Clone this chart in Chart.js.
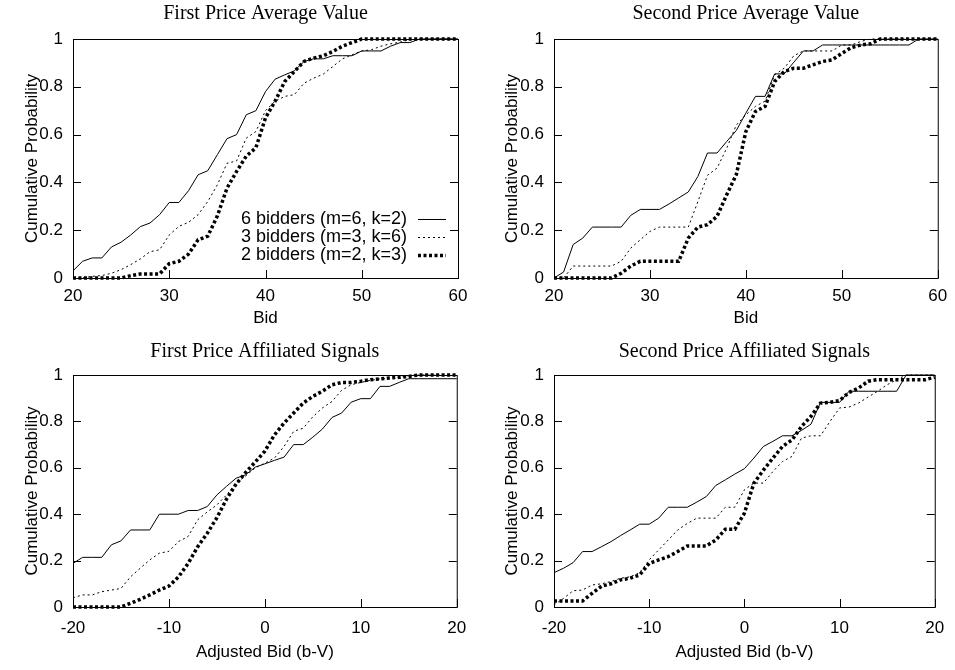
<!DOCTYPE html>
<html>
<head>
<meta charset="utf-8">
<script src="https://cdn.jsdelivr.net/npm/chart.js@4.4.0/dist/chart.umd.min.js"></script>
<style>
  body { margin: 0; background: #fff; }
  #wrap { position: relative; width: 955px; height: 670px; }
  canvas { position: absolute; }
</style>
</head>
<body>
<div id="wrap">
  <canvas id="fpav" width="477" height="335" style="left:0;top:0"></canvas>
  <canvas id="spav" width="478" height="335" style="left:477px;top:0"></canvas>
  <canvas id="fpas" width="477" height="335" style="left:0;top:335px"></canvas>
  <canvas id="spas" width="478" height="335" style="left:477px;top:335px"></canvas>
</div>
<script>
const seriesLabels = ["6 bidders (m=6, k=2)", "3 bidders (m=3, k=6)", "2 bidders (m=2, k=3)"];

const bids = [20, 21, 22, 23, 24, 25, 26, 27, 28, 29, 30, 31, 32, 33, 34, 35, 36, 37, 38, 39, 40,
  41, 42, 43, 44, 45, 46, 47, 48, 49, 50, 51, 52, 53, 54, 55, 56, 57, 58, 59, 60];
const adjBids = [-20, -19, -18, -17, -16, -15, -14, -13, -12, -11, -10, -9, -8, -7, -6, -5, -4, -3, -2, -1, 0,
  1, 2, 3, 4, 5, 6, 7, 8, 9, 10, 11, 12, 13, 14, 15, 16, 17, 18, 19, 20];

// First Price Average Value
const fpavSix = [0.03, 0.07, 0.084, 0.084, 0.13, 0.15, 0.18, 0.215, 0.23, 0.265, 0.316, 0.316, 0.365, 0.432,
  0.449, 0.516, 0.583, 0.6, 0.683, 0.70, 0.78, 0.832, 0.85, 0.867, 0.906, 0.917, 0.917, 0.93, 0.93, 0.93,
  0.95, 0.95, 0.95, 0.97, 0.985, 0.985, 1, 1, 1, 1, 1];
const fpavThree = [0, 0, 0.007, 0.01, 0.02, 0.035, 0.056, 0.08, 0.11, 0.118, 0.18, 0.216, 0.233, 0.265,
  0.32, 0.39, 0.48, 0.49, 0.585, 0.613, 0.70, 0.74, 0.76, 0.767, 0.815, 0.836, 0.853, 0.885, 0.917, 0.934,
  0.95, 0.955, 0.97, 0.98, 0.987, 0.997, 1, 1, 1, 1, 1];
const fpavTwo = [0, 0, 0, 0, 0, 0, 0.01, 0.017, 0.017, 0.017, 0.06, 0.07, 0.1, 0.16, 0.175, 0.26, 0.376,
  0.446, 0.51, 0.545, 0.67, 0.74, 0.822, 0.864, 0.906, 0.92, 0.93, 0.948, 0.97, 0.985, 1, 1, 1, 1, 1, 1,
  1, 1, 1, 1, 1];

// Second Price Average Value
const spavSix = [0, 0.025, 0.14, 0.167, 0.213, 0.213, 0.213, 0.213, 0.262, 0.287, 0.287, 0.287, 0.31,
  0.335, 0.36, 0.425, 0.523, 0.523, 0.571, 0.617, 0.69, 0.76, 0.76, 0.854, 0.854, 0.903, 0.95, 0.95, 0.975,
  0.975, 0.975, 0.975, 0.975, 0.975, 0.975, 0.975, 0.975, 0.975, 1, 1, 1];
const spavThree = [0, 0, 0.05, 0.05, 0.05, 0.05, 0.05, 0.07, 0.125, 0.16, 0.195, 0.213, 0.213, 0.213,
  0.213, 0.32, 0.43, 0.46, 0.543, 0.64, 0.683, 0.718, 0.74, 0.85, 0.878, 0.93, 0.95, 0.95, 0.95, 0.95,
  0.975, 0.975, 0.99, 1, 1, 1, 1, 1, 1, 1, 1];
const spavTwo = [0, 0, 0, 0, 0, 0, 0, 0.02, 0.05, 0.07, 0.07, 0.07, 0.07, 0.07, 0.167, 0.213, 0.223,
  0.258, 0.348, 0.432, 0.613, 0.697, 0.718, 0.822, 0.864, 0.878, 0.878, 0.892, 0.906, 0.913, 0.94, 0.964,
  0.975, 0.98, 1, 1, 1, 1, 1, 1, 1];

// First Price Affiliated Signals
const fpasSix = [0.188, 0.214, 0.214, 0.214, 0.268, 0.285, 0.332, 0.332, 0.332, 0.40, 0.40, 0.40, 0.416,
  0.416, 0.433, 0.483, 0.52, 0.555, 0.57, 0.603, 0.617, 0.632, 0.646, 0.70, 0.70, 0.732, 0.767, 0.817,
  0.836, 0.883, 0.898, 0.898, 0.951, 0.951, 0.968, 0.984, 0.984, 0.984, 0.984, 0.984, 0.984];
const fpasThree = [0.04, 0.052, 0.052, 0.066, 0.073, 0.08, 0.13, 0.167, 0.203, 0.232, 0.24, 0.282, 0.304,
  0.376, 0.41, 0.44, 0.483, 0.534, 0.565, 0.6, 0.62, 0.642, 0.692, 0.757, 0.771, 0.82, 0.858, 0.886, 0.934,
  0.958, 0.968, 0.977, 0.983, 0.987, 0.991, 0.996, 1, 1, 1, 1, 1];
const fpasTwo = [0, 0, 0, 0, 0, 0, 0.016, 0.033, 0.052, 0.073, 0.09, 0.13, 0.188, 0.26, 0.318, 0.385, 0.465,
  0.53, 0.58, 0.625, 0.672, 0.742, 0.793, 0.836, 0.879, 0.908, 0.93, 0.958, 0.968, 0.968, 0.973, 0.98,
  0.983, 0.987, 0.99, 0.994, 1, 1, 1, 1, 1];

// Second Price Affiliated Signals
const spasSix = [0.148, 0.167, 0.191, 0.239, 0.239, 0.26, 0.282, 0.308, 0.332, 0.357, 0.357, 0.383, 0.43,
  0.43, 0.43, 0.452, 0.476, 0.524, 0.548, 0.573, 0.596, 0.642, 0.692, 0.714, 0.738, 0.738, 0.761, 0.788,
  0.882, 0.882, 0.882, 0.93, 0.93, 0.93, 0.93, 0.93, 0.93, 1, 1, 1, 1];
const spasThree = [0.009, 0.037, 0.07, 0.073, 0.095, 0.1, 0.11, 0.124, 0.13, 0.148, 0.203, 0.246, 0.289,
  0.332, 0.36, 0.383, 0.383, 0.383, 0.43, 0.43, 0.505, 0.534, 0.534, 0.584, 0.627, 0.649, 0.728, 0.738,
  0.738, 0.8, 0.858, 0.862, 0.879, 0.905, 0.93, 0.958, 0.98, 1, 1, 1, 1];
const spasTwo = [0.026, 0.026, 0.026, 0.026, 0.059, 0.09, 0.1, 0.117, 0.124, 0.138, 0.188, 0.203, 0.217,
  0.239, 0.263, 0.263, 0.263, 0.289, 0.335, 0.335, 0.404, 0.534, 0.59, 0.642, 0.692, 0.72, 0.778, 0.822,
  0.879, 0.882, 0.89, 0.925, 0.944, 0.973, 0.98, 0.98, 0.98, 0.98, 0.98, 0.98, 0.99];

const sansFont = "'Liberation Sans', Arial, sans-serif";
const serifFont = "'Liberation Serif', 'Times New Roman', serif";
const textSize = 17;
const keySize = 18;

// solid, thin dashed, thick dotted
const lineStyles = [
  { borderWidth: 1, borderDash: [] },
  { borderWidth: 1, borderDash: [2, 3] },
  { borderWidth: 3.5, borderDash: [3, 2.5] },
];

// box, inward tick marks and the in-plot key
const framePlugin = {
  id: "frame",
  beforeDatasetsDraw(chart) {
    const { ctx, chartArea: a, scales } = chart;
    ctx.save();
    ctx.strokeStyle = "#000";
    ctx.lineWidth = 1;
    ctx.strokeRect(a.left + 0.5, a.top + 0.5, a.right - a.left, a.bottom - a.top);
    ctx.beginPath();
    scales.y.ticks.forEach((t) => {
      const py = Math.round(scales.y.getPixelForValue(t.value)) + 0.5;
      ctx.moveTo(a.left, py);
      ctx.lineTo(a.left + 8, py);
      ctx.moveTo(a.right, py);
      ctx.lineTo(a.right - 8, py);
    });
    scales.x.ticks.forEach((t) => {
      const px = Math.round(scales.x.getPixelForValue(t.value)) + 0.5;
      ctx.moveTo(px, a.bottom);
      ctx.lineTo(px, a.bottom - 8);
    });
    ctx.stroke();
    ctx.restore();
  },
  afterDatasetsDraw(chart, args, opts) {
    if (!opts.legend) return;
    const { ctx, chartArea: a } = chart;
    ctx.save();
    ctx.font = keySize + "px " + sansFont;
    ctx.fillStyle = "#000";
    ctx.textAlign = "right";
    ctx.textBaseline = "middle";
    chart.data.datasets.forEach((ds, i) => {
      const y = a.top + 180 + i * 18;
      ctx.fillText(ds.label, a.right - 51, y);
      ctx.beginPath();
      ctx.strokeStyle = "#000";
      ctx.lineWidth = ds.borderWidth;
      ctx.setLineDash(ds.borderDash);
      ctx.moveTo(a.right - 40, y + 0.5);
      ctx.lineTo(a.right - 12, y + 0.5);
      ctx.stroke();
    });
    ctx.restore();
  },
};

function makeSeries(xs, ys) {
  return xs.map((x, i) => ({ x: x, y: ys[i] }));
}

function makePanel(id, p) {
  const datasets = p.series.map((ys, i) => ({
    label: seriesLabels[i],
    data: makeSeries(p.xs, ys),
    borderColor: "#000",
    backgroundColor: "#000",
    borderWidth: lineStyles[i].borderWidth,
    borderDash: lineStyles[i].borderDash,
    pointRadius: 0,
    tension: 0,
    fill: false,
    clip: 4,
  }));
  return new Chart(document.getElementById(id), {
    type: "line",
    data: { datasets: datasets },
    options: {
      responsive: false,
      animation: false,
      events: [],
      layout: { padding: { left: 0, right: p.padRight, top: 0, bottom: 0 } },
      plugins: {
        legend: { display: false },
        tooltip: { enabled: false },
        title: {
          display: true,
          text: p.title,
          fullSize: false,
          color: "#000",
          font: { family: serifFont, size: 20, weight: "normal" },
          padding: { top: p.titleTop, bottom: p.titleBottom },
        },
        frame: { legend: p.legend },
      },
      scales: {
        x: {
          type: "linear",
          min: p.xs[0],
          max: p.xs[p.xs.length - 1],
          grid: { display: false, drawTicks: false },
          border: { display: false },
          ticks: {
            stepSize: 10,
            color: "#000",
            padding: p.xTickPad,
            maxRotation: 0,
            font: { family: sansFont, size: textSize },
          },
          title: {
            display: true,
            text: p.xTitle,
            color: "#000",
            font: { family: sansFont, size: textSize },
            padding: { top: 0, bottom: p.xTitlePad },
          },
          afterFit: (s) => { s.height = p.xAxisH; },
        },
        y: {
          min: 0,
          max: 1,
          grid: { display: false, drawTicks: false },
          border: { display: false },
          ticks: {
            stepSize: 0.2,
            color: "#000",
            padding: 10,
            font: { family: sansFont, size: textSize },
            callback: (v) => String(Math.round(v * 10) / 10),
          },
          title: {
            display: true,
            text: "Cumulative Probability",
            color: "#000",
            font: { family: sansFont, size: textSize },
            padding: { top: p.yTitlePad, bottom: 0 },
          },
          afterFit: (s) => { s.width = p.yAxisW; },
        },
      },
    },
    plugins: [framePlugin],
  });
}

makePanel("fpav", {
  title: "First Price Average Value", xTitle: "Bid", xs: bids,
  series: [fpavSix, fpavThree, fpavTwo], legend: true,
  yAxisW: 73, padRight: 19, xAxisH: 57,
  titleTop: 2, titleBottom: 13, xTickPad: 7.8, xTitlePad: 6.8, yTitlePad: 21.8,
});
makePanel("spav", {
  title: "Second Price Average Value", xTitle: "Bid", xs: bids,
  series: [spavSix, spavThree, spavTwo], legend: false,
  yAxisW: 77, padRight: 16, xAxisH: 57,
  titleTop: 2, titleBottom: 13, xTickPad: 7.8, xTitlePad: 6.8, yTitlePad: 24.8,
});
makePanel("fpas", {
  title: "First Price Affiliated Signals", xTitle: "Adjusted Bid (b-V)", xs: adjBids,
  series: [fpasSix, fpasThree, fpasTwo], legend: false,
  yAxisW: 73, padRight: 19, xAxisH: 63,
  titleTop: 5, titleBottom: 11, xTickPad: 10.8, xTitlePad: 7.8, yTitlePad: 21.8,
});
makePanel("spas", {
  title: "Second Price Affiliated Signals", xTitle: "Adjusted Bid (b-V)", xs: adjBids,
  series: [spasSix, spasThree, spasTwo], legend: false,
  yAxisW: 77, padRight: 16, xAxisH: 63,
  titleTop: 5, titleBottom: 11, xTickPad: 10.8, xTitlePad: 7.8, yTitlePad: 24.8,
});
</script>
</body>
</html>
